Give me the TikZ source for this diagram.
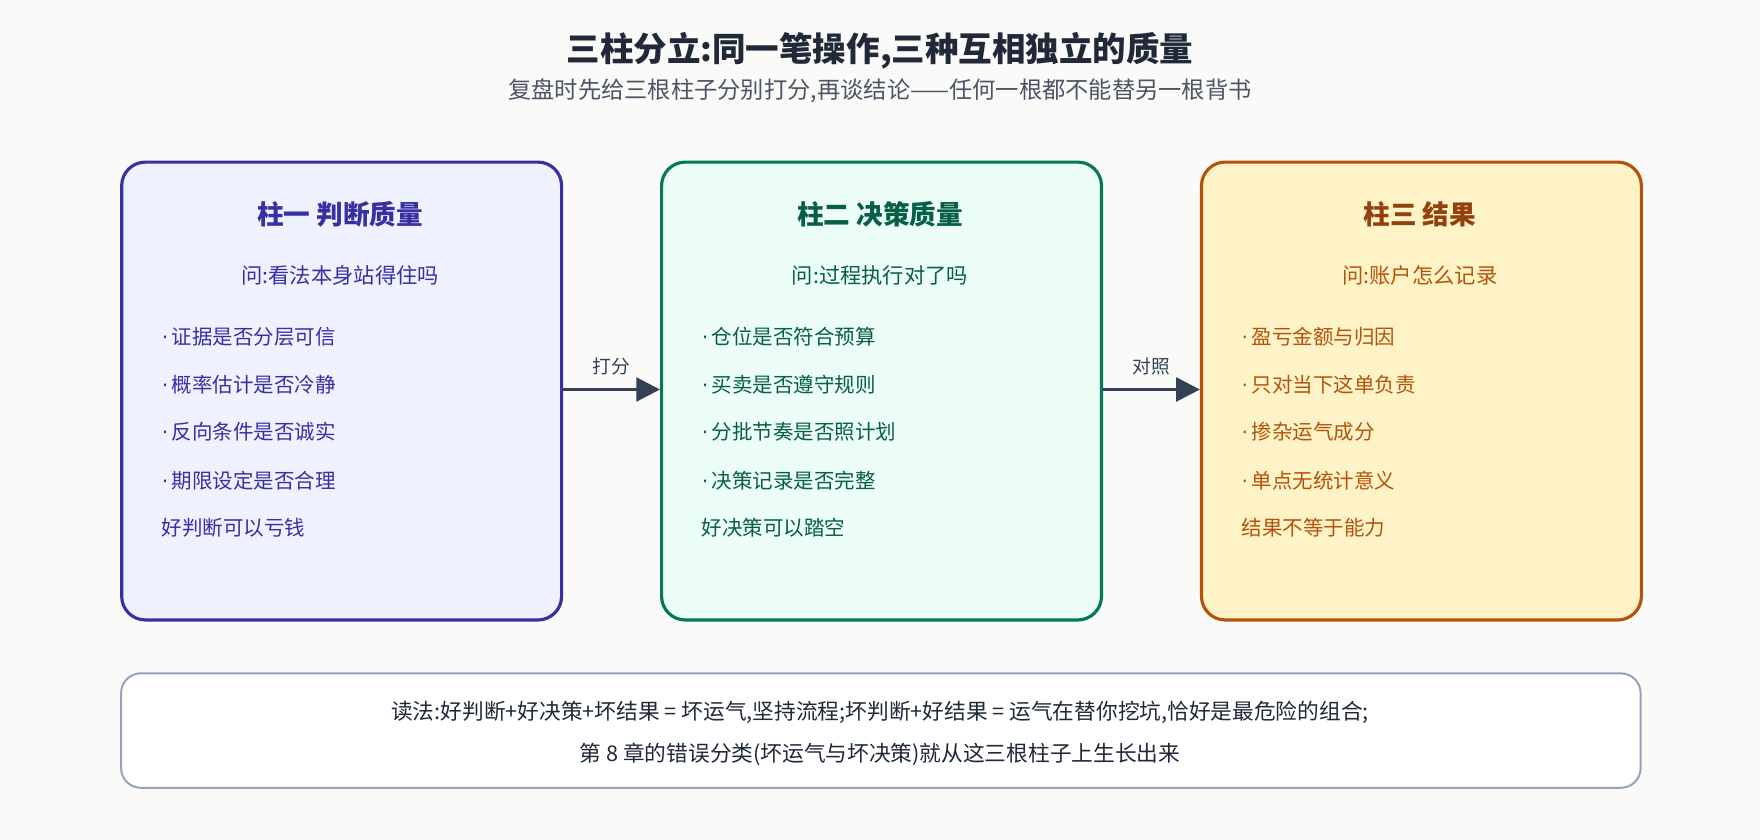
\documentclass[tikz,border=0pt]{standalone}
\usepackage{fontspec}
\setmainfont{Noto Sans CJK SC}
\newfontfamily\dotfont{DejaVu Sans}
\newcommand{\bul}{{\dotfont ·}\,}
\usetikzlibrary{positioning, arrows.meta}
\definecolor{bgc}{HTML}{FAFAF9}
\definecolor{inkA}{HTML}{3730A3}\definecolor{fillA}{HTML}{EEF2FF}
\definecolor{inkB}{HTML}{047857}\definecolor{fillB}{HTML}{ECFDF5}\definecolor{txtB}{HTML}{065F46}
\definecolor{inkC}{HTML}{B45309}\definecolor{fillC}{HTML}{FEF3C7}\definecolor{txtC}{HTML}{92400E}
\definecolor{slate}{HTML}{334155}\definecolor{edgeg}{HTML}{94A3B8}\definecolor{titlec}{HTML}{1F2937}
\definecolor{subc}{HTML}{4B5563}
\begin{document}
\begin{tikzpicture}[x=0.02cm, y=-0.02cm,
pillar/.style={draw=#1, line width=1.6pt, rounded corners=12pt, minimum width=7.84cm, minimum height=8.16cm, anchor=north west},
head/.style={font=\fontsize{13.5}{15}\selectfont\bfseries, text=#1},
ask/.style={font=\fontsize{10.8}{12}\selectfont, text=#1},
item/.style={font=\fontsize{10.4}{12}\selectfont, text=#1, anchor=west},
link/.style={-{Triangle[length=12pt,width=12pt]}, line width=1.6pt, draw=slate},
]
\fill[bgc] (0,0) rectangle (1568,748);

%Title
\node[font=\fontsize{17}{20}\selectfont\bfseries, text=titlec] (title) at (784,45) {三柱分立:同一笔操作,三种互相独立的质量};
\node[font=\fontsize{11.8}{14}\selectfont, text=subc] (sub) at (784,81) {复盘时先给三根柱子分别打分,再谈结论——任何一根都不能替另一根背书};

%Pillars
\node[pillar=inkA, fill=fillA] (p1) at (107,143) {};
\node[pillar=inkB, fill=fillB] (p2) at (588,143) {};
\node[pillar=inkC, fill=fillC] (p3) at (1069,143) {};

\node[head=inkA] at (303,191) {柱一 判断质量};
\node[ask=inkA] at (303,245) {问:看法本身站得住吗};
\node[item=inkA] at (138,300) {\bul 证据是否分层可信};
\node[item=inkA] at (138,343) {\bul 概率估计是否冷静};
\node[item=inkA] at (138,385) {\bul 反向条件是否诚实};
\node[item=inkA] at (138,428) {\bul 期限设定是否合理};
\node[item=inkA] at (138,470) {好判断可以亏钱};

\node[head=txtB] at (784,191) {柱二 决策质量};
\node[ask=txtB] at (784,245) {问:过程执行对了吗};
\node[item=txtB] at (619,300) {\bul 仓位是否符合预算};
\node[item=txtB] at (619,343) {\bul 买卖是否遵守规则};
\node[item=txtB] at (619,385) {\bul 分批节奏是否照计划};
\node[item=txtB] at (619,428) {\bul 决策记录是否完整};
\node[item=txtB] at (619,470) {好决策可以踏空};

\node[head=txtC] at (1265,191) {柱三 结果};
\node[ask=inkC] at (1265,245) {问:账户怎么记录};
\node[item=inkC] at (1100,300) {\bul 盈亏金额与归因};
\node[item=inkC] at (1100,343) {\bul 只对当下这单负责};
\node[item=inkC] at (1100,385) {\bul 掺杂运气成分};
\node[item=inkC] at (1100,428) {\bul 单点无统计意义};
\node[item=inkC] at (1100,470) {结果不等于能力};

% Links
\draw[link] (p1.east |- 0,347) -- node[above=3pt, font=\fontsize{9.5}{11}\selectfont, text=slate] {打分} (p2.west |- 0,347);
\draw[link] (p2.east |- 0,347) -- node[above=3pt, font=\fontsize{9.5}{11}\selectfont, text=slate] {对照} (p3.west |- 0,347);

% Reading note
\node[draw=edgeg, line width=1pt, fill=white, rounded corners=10pt, minimum width=27.08cm, minimum height=2.04cm, anchor=north west] (note) at (107,599) {};
\node[font=\fontsize{11}{13}\selectfont, text=titlec] at (784,635) {读法:好判断+好决策+坏结果 = 坏运气,坚持流程;坏判断+好结果 = 运气在替你挖坑,恰好是最危险的组合;};
\node[font=\fontsize{11}{13}\selectfont, text=titlec] at (784,672) {第 8 章的错误分类(坏运气与坏决策)就从这三根柱子上生长出来};
\end{tikzpicture}
\end{document}
